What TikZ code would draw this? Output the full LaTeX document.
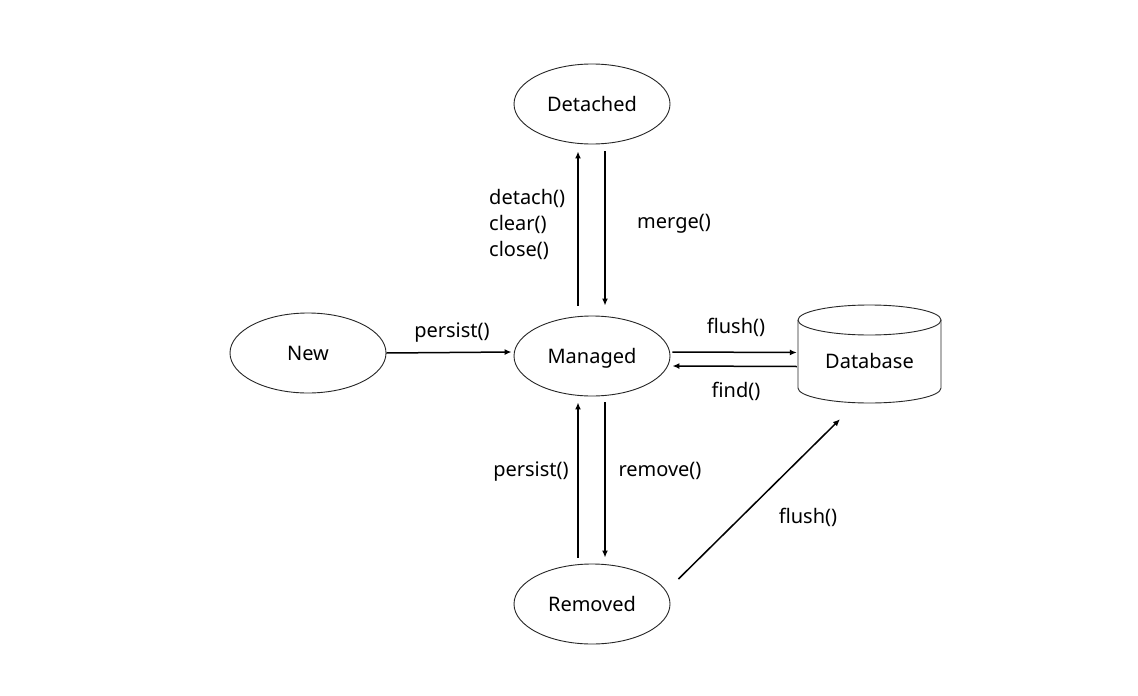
\documentclass[tikz,border=0pt]{standalone}
\usepackage{fontspec}
\setmainfont{Noto Sans}
\usetikzlibrary{shapes.geometric,arrows.meta,calc}
\begin{document}
\begin{tikzpicture}[x=1pt,y=-1pt,
 state/.style={ellipse,draw=black!85,line width=0.9pt,minimum width=156pt,minimum height=80pt,inner sep=0pt,font=\fontsize{20}{26}\selectfont},
 arr/.style={line width=1.5pt,-{Latex[length=7pt,width=6pt]}},
 lbl/.style={font=\fontsize{20}{26}\selectfont,inner sep=0pt}]
\useasboundingbox[fill=white] (0,0) rectangle (1138,696);
\node[state] (D) at (592,104) {Detached};
\node[state] (N) at (308,353) {New};
\node[state] (M) at (592,356) {};
\node[lbl] (Mt) at ([yshift=-2pt]M.center) {Managed};
\node[state] (R) at (592,604) {Removed};
\node[minimum width=143pt,minimum height=98pt,inner sep=0pt] (DB) at (869.5,354) {};
\node[lbl] (DBt) at ([yshift=-7pt]DB.center) {Database};
% cylinder
\draw[black!85,line width=0.9pt] (798,320) arc[start angle=180,end angle=-180,x radius=71.5pt,y radius=15pt];
\draw[black!85,line width=0.9pt] (798,320) -- (798,388) arc[start angle=180,end angle=360,x radius=71.5pt,y radius=15pt] -- (941,320);
% arrows
\draw[arr] (N.east) -- ([xshift=-2pt,yshift=4pt]M.west);
\draw[arr] ([xshift=-14pt,yshift=10pt]M.north) -- ([xshift=-14pt,yshift=-7pt]D.south);
\draw[arr] ([xshift=13pt,yshift=-7pt]D.south) -- ([xshift=13pt,yshift=10pt]M.north);
\draw[arr] ([xshift=13pt,yshift=-6pt]M.south) -- ([xshift=13pt,yshift=6pt]R.north);
\draw[arr] ([xshift=-14pt,yshift=6pt]R.north) -- ([xshift=-14pt,yshift=-6pt]M.south);
\draw[arr] ([xshift=2pt,yshift=4pt]M.east) -- ([xshift=-1pt,yshift=1.5pt]DB.west);
\draw[arr] ([xshift=-1pt,yshift=-12.5pt]DB.west) -- ([xshift=2pt,yshift=-10pt]M.east);
\draw[arr] ([xshift=8pt,yshift=25pt]R.east) -- ([xshift=-29.5pt,yshift=-16pt]DB.south);
% labels
\node[lbl] (l1) at (452,333) {persist()};
\node[lbl,align=left,anchor=west] (l2) at (489,224) {detach()\\clear()\\close()};
\node[lbl] (l3) at (674,224) {merge()};
\node[lbl] (l4) at (736,327) {flush()};
\node[lbl] (l5) at (736,391) {find()};
\node[lbl] (l6) at (531,472) {persist()};
\node[lbl] (l7) at (660,471) {remove()};
\node[lbl] (l8) at (808,517) {flush()};
\end{tikzpicture}
\end{document}
